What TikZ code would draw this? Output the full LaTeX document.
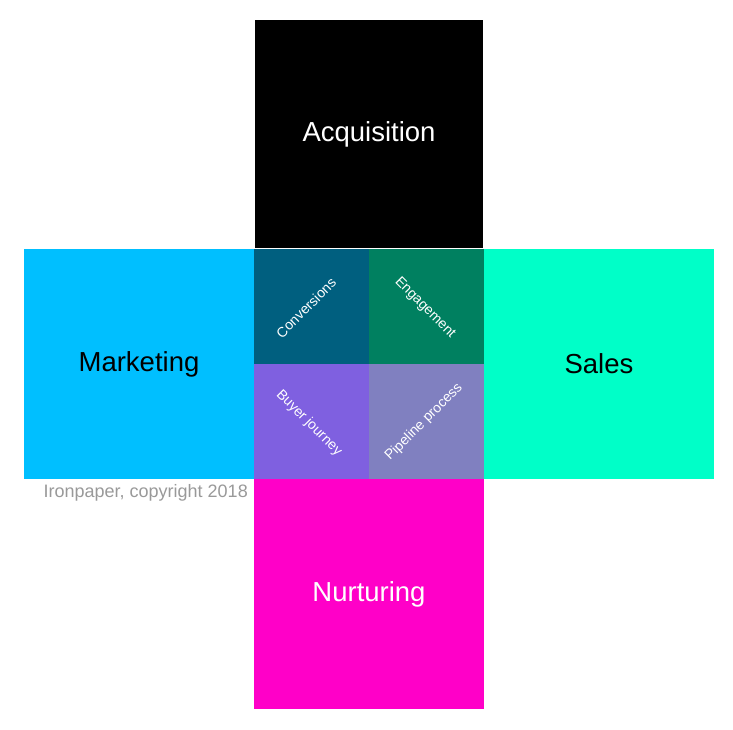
\documentclass[tikz,border=0pt]{standalone}
\usepackage{fontspec}
\setmainfont{Liberation Sans}
\usetikzlibrary{positioning}
\definecolor{acqblack}{HTML}{000000}
\definecolor{mktblue}{HTML}{00BFFF}
\definecolor{salesgreen}{HTML}{00FFC8}
\definecolor{nurpink}{HTML}{FF00C8}
\definecolor{convteal}{HTML}{005F7F}
\definecolor{enggreen}{HTML}{008060}
\definecolor{buyviolet}{HTML}{7F60E0}
\definecolor{pipelav}{HTML}{8080C0}
\definecolor{notegray}{HTML}{999999}

\begin{document}
\begin{tikzpicture}[
        x=1pt, y=-1pt,
        bigbox/.style={inner sep=0pt, minimum width=230pt, minimum height=230pt,
            font=\fontsize{27.5}{32}\selectfont, text centered},
        cell/.style={inner sep=0pt, minimum width=115pt, minimum height=115pt},
        celltext/.style={text=white, font=\fontsize{14}{16}\selectfont},
    ]
    \useasboundingbox (0,0) rectangle (733,730);
    % four sides of the cross
    \node[bigbox, fill=acqblack, text=white, minimum width=228pt, minimum height=228pt]
        (acq) at (369,134) {Acquisition};
    \node[bigbox, fill=mktblue, text=black] (mkt) at (139,364) {Marketing};
    \node[bigbox, fill=salesgreen, text=black] (sales) at (599,364) {Sales};
    \node[bigbox, fill=nurpink, text=white] (nur) at (369,594) {Nurturing};
    % centre cells
    \node[cell, fill=convteal] (conv) at (311.5,306.5) {};
    \node[cell, fill=enggreen, right=0pt of conv] (eng) {};
    \node[cell, fill=buyviolet, below=0pt of conv] (buy) {};
    \node[cell, fill=pipelav, right=0pt of buy] (pipe) {};
    \node[celltext, rotate=45] at (306,308) {Conversions};
    \node[celltext, rotate=-45] at (425,308) {Engagement};
    \node[celltext, rotate=-45] at (309,423) {Buyer journey};
    \node[celltext, rotate=45] at (424,422) {Pipeline process};
    % note
    \node[anchor=east, inner sep=0pt, text=notegray, font=\fontsize{18}{21}\selectfont]
        (note) at (248,493) {Ironpaper, copyright 2018};
\end{tikzpicture}
\end{document}
